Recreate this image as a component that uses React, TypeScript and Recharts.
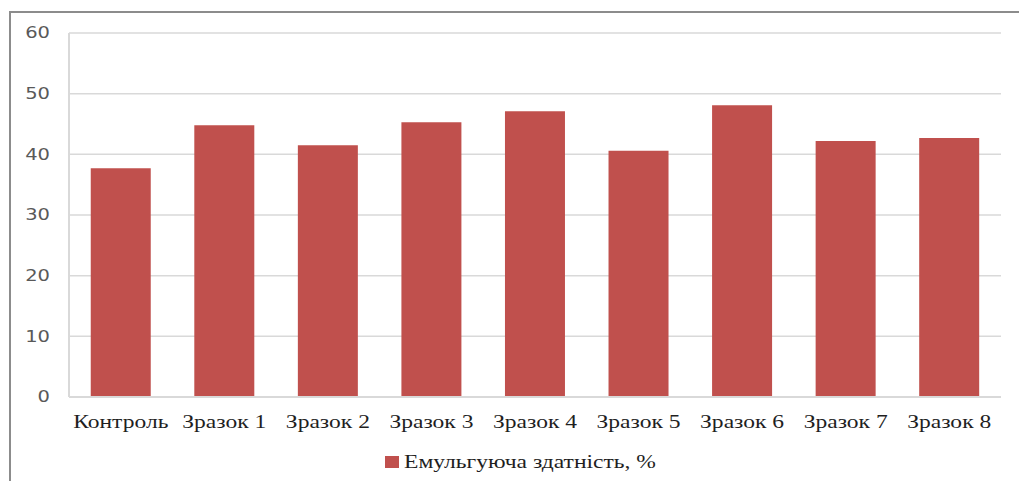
import React from 'react';
import { BarChart, Bar, XAxis, YAxis, CartesianGrid, Legend } from 'recharts';

const categories = ['Контроль', 'Зразок 1', 'Зразок 2', 'Зразок 3', 'Зразок 4', 'Зразок 5', 'Зразок 6', 'Зразок 7', 'Зразок 8'];
const emulsifying = [37.7, 44.8, 41.5, 45.3, 47.1, 40.6, 48.1, 42.2, 42.7];
const yTicks = [0, 10, 20, 30, 40, 50, 60];
const seriesName = 'Емульгуюча здатність, %';

const BAR_COLOR = '#C0504D';
const GRID_COLOR = '#D9D9D9';
const X_SCALE = 1.24;
const Y_SCALE = 1.3;

const data = categories.map((name, i) => ({ name, value: emulsifying[i] }));

const XTick = ({ x, y, payload }: { x?: number; y?: number; payload?: { value: string } }) => (
    <g transform={`translate(${x},${y}) scale(${X_SCALE},1)`}>
        <text x={0} y={0} dy={31} textAnchor="middle" fill="#1f1f1f"
            style={{ fontFamily: '"Liberation Serif", serif', fontSize: 19 }}>
            {payload?.value}
        </text>
    </g>
);

const YTick = ({ x, y, payload }: { x?: number; y?: number; payload?: { value: number } }) => (
    <g transform={`translate(${(x ?? 0) - 19},${y}) scale(${Y_SCALE},1)`}>
        <text x={0} y={0} dy="0.36em" textAnchor="end" fill="#595959"
            style={{ fontFamily: '"DejaVu Sans", sans-serif', fontSize: 15 }}>
            {payload?.value}
        </text>
    </g>
);

const LegendContent = () => (
    <div style={{ position: 'absolute', left: 385, top: 450, display: 'flex', alignItems: 'center' }}>
        <span style={{ width: 14, height: 12, background: BAR_COLOR, display: 'inline-block', marginRight: 5 }} />
        <span style={{
            fontFamily: '"Liberation Serif", serif', fontSize: 19, color: '#1f1f1f', lineHeight: '24px',
            display: 'inline-block', transform: `scaleX(${X_SCALE})`, transformOrigin: 'left center', whiteSpace: 'nowrap',
        }}>
            {seriesName}
        </span>
    </div>
);

export default function App() {
    return (
        <div style={{ position: 'fixed', left: 0, top: 0, width: 1019, height: 481, background: '#fff', overflow: 'hidden' }}>
            {/* frame around the chart area, only top and left edges fall inside */}
            <div style={{ position: 'absolute', left: 9, top: 11, width: 1100, height: 600, borderTop: '2px solid #8c8c8c', borderLeft: '2px solid #8c8c8c' }} />
            <BarChart
                width={1019}
                height={481}
                data={data}
                margin={{ top: 33, right: 18, left: 0, bottom: 44 }}
                barCategoryGap="21%"
                style={{ position: 'absolute', left: 0, top: 0 }}
            >
                <CartesianGrid vertical={false} stroke={GRID_COLOR} strokeWidth={1.5} />
                <XAxis
                    dataKey="name"
                    height={40}
                    interval={0}
                    axisLine={{ stroke: GRID_COLOR, strokeWidth: 2 }}
                    tickLine={false}
                    tickSize={0}
                    tickMargin={0}
                    tick={<XTick />}
                />
                <YAxis
                    width={69}
                    domain={[0, 60]}
                    ticks={yTicks}
                    axisLine={{ stroke: GRID_COLOR, strokeWidth: 2 }}
                    tickLine={false}
                    tickSize={0}
                    tickMargin={0}
                    tick={<YTick />}
                />
                <Legend content={<LegendContent />} wrapperStyle={{ left: 0, top: 0, width: 1019, height: 0 }} />
                <Bar dataKey="value" name={seriesName} fill={BAR_COLOR} isAnimationActive={false} />
            </BarChart>
        </div>
    );
}
